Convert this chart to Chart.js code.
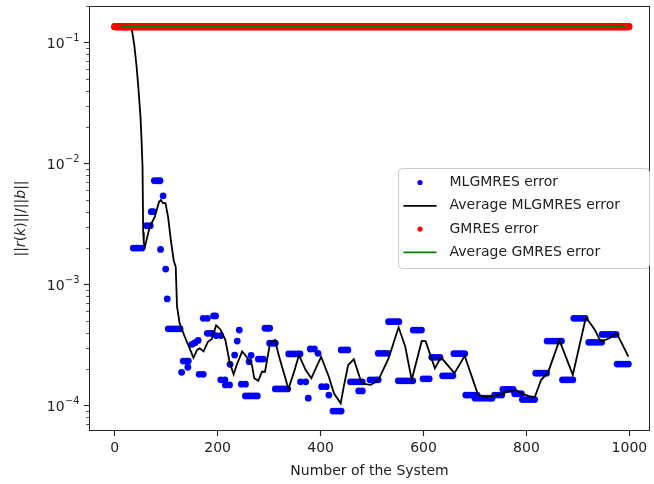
<!DOCTYPE html>
<html>
<head>
<meta charset="utf-8">
<script src="https://cdn.jsdelivr.net/npm/chart.js@4.4.1/dist/chart.umd.min.js"></script>
<style>
  html, body { margin: 0; padding: 0; background: #fff; }
  canvas { display: block; }
</style>
</head>
<body>
<canvas id="myChart" width="654" height="484"></canvas>
<script>
// MLGMRES error (blue dots), one line per run of equal values
const mlgmresX = [
  0, 6, 12, 18, 24,
  36, 42, 47, 53,
  62, 69,
  71, 75,
  77, 83, 88,
  89, 94, 99, 102,
  104, 110, 116, 122, 127,
  130,
  133, 139, 143,
  142,
  150, 156, 162,
  164, 172,
  172, 180,
  180, 186, 190,
  192, 196,
  197, 206,
  206, 214,
  215, 223,
  224, 233, 238, 242,
  246, 254,
  254, 260, 266, 272, 277,
  261, 265,
  279, 284, 289,
  292, 297, 301,
  301, 307, 312,
  312, 318, 324, 330, 336,
  338, 344, 350, 356, 360,
  361, 371,
  376,
  380, 388,
  395,
  402, 411,
  416,
  424, 430, 436, 440,
  440, 447, 453,
  458, 464, 470, 476, 481,
  474, 481,
  496, 502, 508, 512,
  512, 518, 524, 530,
  532, 537, 542, 547, 552,
  551, 557, 563, 569, 575, 579,
  580, 586, 591, 596,
  599, 605, 611,
  616, 621, 627, 632,
  637, 642, 647, 652, 657,
  659, 664, 669, 674, 680,
  682, 687, 693, 698, 704,
  700, 706, 712, 718, 724, 730, 733,
  738, 745, 752,
  754, 759, 764, 769, 774,
  777, 783, 790,
  792, 798, 804, 810, 816,
  818, 823, 828, 834, 839,
  840, 846, 852, 858, 864, 868,
  870, 875, 880, 885, 890,
  892, 897, 903, 909, 914,
  921, 927, 933, 939, 946,
  947, 953, 959, 965, 971, 974,
  976, 981, 987, 993, 998
];
const mlgmresErr = [
  0.135, 0.135, 0.135, 0.135, 0.135,
  0.0020, 0.0020, 0.0020, 0.0020,
  0.00306, 0.00306,
  0.0040, 0.0040,
  0.0072, 0.0072, 0.0072,
  0.00195, 0.0054, 0.00134, 0.00076,
  0.00043, 0.00043, 0.00043, 0.00043, 0.00043,
  0.000188,
  0.000233, 0.000233, 0.000233,
  0.000207,
  0.00032, 0.00033, 0.000345,
  0.000181, 0.000181,
  0.000525, 0.000525,
  0.000395, 0.000395, 0.000395,
  0.00055, 0.00055,
  0.000378, 0.000378,
  0.000163, 0.000163,
  0.000148, 0.000148,
  0.000219, 0.000261, 0.000341, 0.00042,
  0.00015, 0.00015,
  0.00012, 0.00012, 0.00012, 0.00012, 0.00012,
  0.00023, 0.00026,
  0.000242, 0.000242, 0.000242,
  0.000435, 0.000435, 0.000435,
  0.000327, 0.000327, 0.000327,
  0.000137, 0.000137, 0.000137, 0.000137, 0.000137,
  0.000267, 0.000267, 0.000267, 0.000267, 0.000267,
  0.000157, 0.000157,
  0.000115,
  0.000293, 0.000293,
  0.00027,
  0.000143, 0.000143,
  0.000122,
  0.00009, 0.00009, 0.00009, 0.00009,
  0.000288, 0.000288, 0.000288,
  0.000157, 0.000157, 0.000157, 0.000157, 0.000157,
  0.000132, 0.000132,
  0.000163, 0.000163, 0.000163, 0.000163,
  0.00027, 0.00027, 0.00027, 0.00027,
  0.000493, 0.000493, 0.000493, 0.000493, 0.000493,
  0.00016, 0.00016, 0.00016, 0.00016, 0.00016, 0.00016,
  0.00042, 0.00042, 0.00042, 0.00042,
  0.000166, 0.000166, 0.000166,
  0.00025, 0.00025, 0.00025, 0.00025,
  0.000176, 0.000176, 0.000176, 0.000176, 0.000176,
  0.000268, 0.000268, 0.000268, 0.000268, 0.000268,
  0.000122, 0.000122, 0.000122, 0.000122, 0.000122,
  0.000115, 0.000115, 0.000115, 0.000115, 0.000115, 0.000115, 0.000115,
  0.000122, 0.000122, 0.000122,
  0.000136, 0.000136, 0.000136, 0.000136, 0.000136,
  0.000125, 0.000125, 0.000125,
  0.000112, 0.000112, 0.000112, 0.000112, 0.000112,
  0.000185, 0.000185, 0.000185, 0.000185, 0.000185,
  0.000341, 0.000341, 0.000341, 0.000341, 0.000341, 0.000341,
  0.000163, 0.000163, 0.000163, 0.000163, 0.000163,
  0.000525, 0.000525, 0.000525, 0.000525, 0.000525,
  0.000333, 0.000333, 0.000333, 0.000333, 0.000333,
  0.000387, 0.000387, 0.000387, 0.000387, 0.000387, 0.000387,
  0.00022, 0.00022, 0.00022, 0.00022, 0.00022
];

// Average MLGMRES error (black line)
const avgX = [28, 33, 38, 42.5, 46, 50, 52, 54, 55.3, 56.5,
  58.6, 68, 78, 86, 89.5, 94, 98.6, 103.7, 109, 114.6,
  118.5, 121, 126, 136, 145.6, 153, 160, 165, 172.6, 181,
  188.7, 197, 205, 215, 223, 231, 237, 247.5, 256, 266.7,
  271, 279, 286, 292, 301.5, 311, 319.5, 337.5, 348.5, 358,
  371, 382, 401, 416, 426, 439, 445, 453.5, 464.5, 477.5,
  484, 497, 508, 513, 532, 551.5, 564.5, 577, 596.5, 604,
  622, 634, 660, 680, 706, 722, 737, 751, 764, 780,
  790, 803, 816, 828.5, 841.5, 864, 890, 915.5, 932, 944.5,
  961, 975.5, 998];
const avgErr = [0.135, 0.13, 0.095, 0.063, 0.042, 0.0244, 0.016, 0.0094, 0.0027, 0.0022,
  0.00205, 0.0030, 0.00364, 0.0048, 0.0050, 0.0047, 0.0047, 0.0036, 0.00233, 0.00158,
  0.0014, 0.00066, 0.00048, 0.00037, 0.000297, 0.000248, 0.000288, 0.000297, 0.00028, 0.000336,
  0.000355, 0.00046, 0.000427, 0.000347, 0.00023, 0.000181, 0.000216, 0.00028, 0.000253, 0.000216,
  0.000168, 0.00016, 0.00019, 0.00019, 0.000323, 0.000347, 0.000253, 0.000137, 0.00019, 0.000261,
  0.000196, 0.000168, 0.000253, 0.000173, 0.000126, 0.000104, 0.000143, 0.000216, 0.000241, 0.000163,
  0.000151, 0.000148, 0.000157, 0.000165, 0.000245, 0.000443, 0.000306, 0.000163, 0.000341, 0.00034,
  0.000203, 0.00025, 0.000185, 0.000257, 0.000122, 0.000118, 0.00012, 0.000124, 0.00013, 0.000134,
  0.000126, 0.00012, 0.000117, 0.000163, 0.000185, 0.000347, 0.000179, 0.000536, 0.000427, 0.000336,
  0.000359, 0.000395, 0.000253];

// GMRES error is flat at ~0.135 for every system (red dots), same for its average (green)
const gmresErr = 0.135;
const numSystems = 1000;
const avgGmresX = [10, 995];
const avgGmresErr = [0.135, 0.135];

const xTicks = [0, 200, 400, 600, 800, 1000];
const yMin = 6.155e-5, yMax = 0.2002;

const FONT = '"DejaVu Sans", "Liberation Sans", sans-serif';
const TEXT = '#222';

const toPts = (xs, ys) => xs.map((x, i) => ({ x: x, y: ys[i] }));
const gmresPts = [];
for (let i = 0; i < numSystems; i++) gmresPts.push({ x: i, y: gmresErr });

// y ticks: decades plus minor 2..9
const yTickVals = [];
for (let e = -5; e <= 0; e++) {
  for (let m = 1; m <= 9; m++) {
    const v = m * Math.pow(10, e);
    if (v >= yMin && v <= yMax) yTickVals.push(v);
  }
}
const isDecade = v => Math.abs(Math.log10(v) - Math.round(Math.log10(v))) < 1e-9;

const decor = {
  id: 'decor',
  afterDraw(chart) {
    const { ctx, chartArea: a, scales: { y } } = chart;
    ctx.save();

    // y ticks + labels like 10^-3
    for (const v of yTickVals) {
      const py = Math.round(y.getPixelForValue(v)) + 0.5;
      const major = isDecade(v);
      ctx.beginPath();
      ctx.strokeStyle = TEXT;
      ctx.lineWidth = major ? 1.1 : 0.8;
      ctx.moveTo(a.left, py);
      ctx.lineTo(a.left - (major ? 5 : 2.8), py);
      ctx.stroke();
      if (major) {
        const ex = Math.round(Math.log10(v));
        const sup = (ex < 0 ? '\u2212' : '') + Math.abs(ex);
        ctx.font = '14px ' + FONT;
        const w10 = ctx.measureText('10').width;
        ctx.font = '9.8px ' + FONT;
        const ws = ctx.measureText(sup).width;
        const xr = a.left - 9.5;
        ctx.fillStyle = TEXT;
        ctx.textBaseline = 'alphabetic';
        ctx.textAlign = 'left';
        ctx.font = '14px ' + FONT;
        ctx.fillText('10', xr - ws - w10 - 0.5, py + 5.5);
        ctx.font = '9.8px ' + FONT;
        ctx.fillText(sup, xr - ws, py - 2);
      }
    }

    // frame
    ctx.strokeStyle = TEXT;
    ctx.lineWidth = 1;
    const x0 = Math.floor(a.left) + 0.5, y0 = Math.floor(a.top) + 0.5;
    const x1 = Math.floor(a.right) - 0.5, y1 = Math.floor(a.bottom) - 0.5;
    ctx.strokeRect(x0, y0, x1 - x0, y1 - y0);

    // y axis title ||r(k)||/||b||  (r, k, b italic)
    const parts = [['||', false], ['r', true], ['(', false], ['k', true], [')||/||', false], ['b', true], ['||', false]];
    let total = 0;
    for (const [s, it] of parts) {
      ctx.font = (it ? 'italic ' : '') + '14px ' + FONT;
      total += ctx.measureText(s).width;
    }
    ctx.translate(21, (a.top + a.bottom) / 2);
    ctx.rotate(-Math.PI / 2);
    ctx.textBaseline = 'middle';
    ctx.fillStyle = TEXT;
    let cx = -total / 2;
    for (const [s, it] of parts) {
      ctx.font = (it ? 'italic ' : '') + '14px ' + FONT;
      ctx.fillText(s, cx, 0);
      cx += ctx.measureText(s).width;
    }
    ctx.setTransform(1, 0, 0, 1, 0, 0);

    // legend
    const bx = 398.5, by = 168.5, bw = 251, bh = 100, r = 4;
    ctx.beginPath();
    ctx.moveTo(bx + r, by);
    ctx.arcTo(bx + bw, by, bx + bw, by + bh, r);
    ctx.arcTo(bx + bw, by + bh, bx, by + bh, r);
    ctx.arcTo(bx, by + bh, bx, by, r);
    ctx.arcTo(bx, by, bx + bw, by, r);
    ctx.closePath();
    ctx.fillStyle = 'rgba(255,255,255,0.8)';
    ctx.fill();
    ctx.strokeStyle = '#cccccc';
    ctx.lineWidth = 1;
    ctx.stroke();

    chart.data.datasets.forEach((ds, i) => {
      const ry = 182.5 + i * 23.3;
      if (ds.showLine) {
        ctx.beginPath();
        ctx.strokeStyle = ds.borderColor;
        ctx.lineWidth = 1.8;
        ctx.moveTo(403.5, ry);
        ctx.lineTo(436.5, ry);
        ctx.stroke();
      } else {
        ctx.beginPath();
        ctx.fillStyle = ds.backgroundColor;
        ctx.arc(420, ry, 2.6, 0, Math.PI * 2);
        ctx.fill();
      }
      ctx.fillStyle = TEXT;
      ctx.font = '14px ' + FONT;
      ctx.textBaseline = 'middle';
      ctx.textAlign = 'left';
      ctx.fillText(ds.label, 449.5, ry);
    });

    ctx.restore();
  }
};

const ctx = document.getElementById('myChart').getContext('2d');
const myChart = new Chart(ctx, {
  type: 'scatter',
  data: {
    datasets: [{
      label: 'MLGMRES error',
      data: toPts(mlgmresX, mlgmresErr),
      backgroundColor: '#0000ff',
      borderColor: '#0000ff',
      pointRadius: 3.4,
      pointBorderWidth: 0,
      order: 4
    }, {
      label: 'Average MLGMRES error',
      data: toPts(avgX, avgErr),
      showLine: true,
      borderColor: '#000000',
      backgroundColor: '#000000',
      borderWidth: 1.8,
      pointRadius: 0,
      tension: 0,
      order: 3
    }, {
      label: 'GMRES error',
      data: gmresPts,
      backgroundColor: '#ff0000',
      borderColor: '#ff0000',
      pointRadius: 3.6,
      pointBorderWidth: 0,
      order: 2
    }, {
      label: 'Average GMRES error',
      data: toPts(avgGmresX, avgGmresErr),
      showLine: true,
      borderColor: '#008000',
      backgroundColor: '#008000',
      borderWidth: 1.8,
      pointRadius: 0,
      order: 1
    }]
  },
  options: {
    responsive: false,
    maintainAspectRatio: false,
    animation: false,
    layout: { padding: { top: 6, right: 1, left: 0, bottom: 0 } },
    plugins: { legend: { display: false }, tooltip: { enabled: false } },
    scales: {
      x: {
        type: 'linear',
        min: -50,
        max: 1040,
        afterBuildTicks: s => { s.ticks = xTicks.map(v => ({ value: v })); },
        afterFit: s => { s.height = 53; },
        grid: { drawOnChartArea: false, drawTicks: true, tickLength: 5, tickColor: TEXT, tickWidth: 1.1 },
        border: { display: false },
        ticks: {
          autoSkip: false, maxRotation: 0, padding: 4, color: TEXT,
          font: { family: FONT, size: 14 },
          callback: v => String(v)
        },
        title: {
          display: true,
          text: 'Number of the System',
          color: TEXT,
          font: { family: FONT, size: 14 },
          padding: { top: 0, bottom: 4.6 }
        }
      },
      y: {
        type: 'logarithmic',
        min: yMin,
        max: yMax,
        afterBuildTicks: s => { s.ticks = yTickVals.map(v => ({ value: v })); },
        afterFit: s => { s.width = 89; },
        grid: { display: false },
        border: { display: false },
        ticks: { display: false }
      }
    }
  },
  plugins: [decor]
});
</script>
</body>
</html>
